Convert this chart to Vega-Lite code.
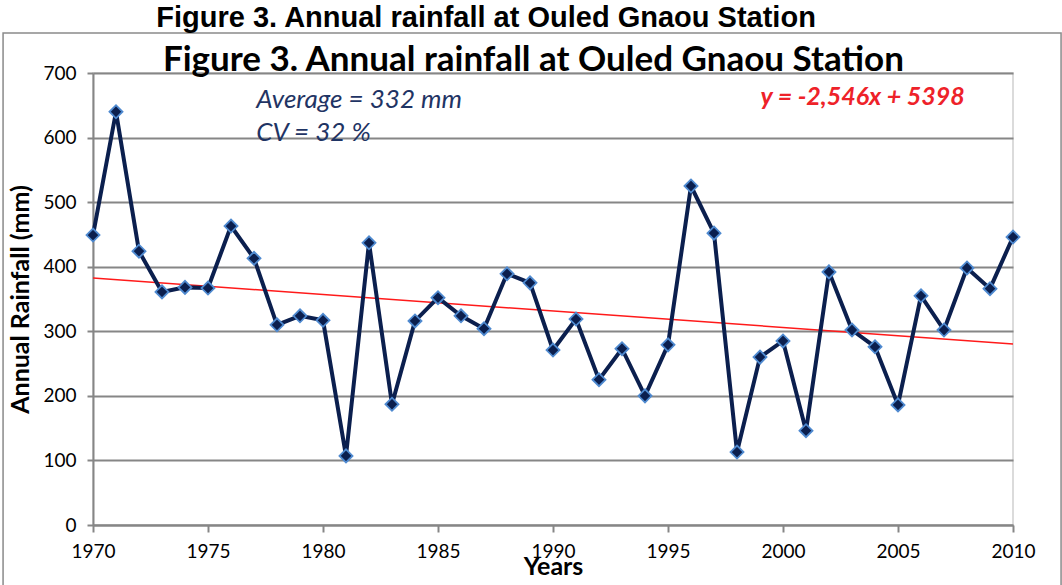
{
  "$schema": "https://vega.github.io/schema/vega-lite/v6.json",
  "autosize": {"type": "none"},
  "width": 920,
  "height": 452,
  "padding": {"left": 93, "top": 73, "right": 49, "bottom": 60},
  "background": "white",
  "config": {
    "view": {"stroke": "#d0d0d0", "strokeWidth": 1.5},
    "axis": {
      "labelFont": "Lato",
      "labelFontSize": 19,
      "labelColor": "black",
      "titleFont": "Lato",
      "titleFontSize": 25,
      "titleFontWeight": "bold",
      "titleColor": "black",
      "domainColor": "#868686",
      "domainWidth": 2,
      "tickColor": "#868686",
      "tickWidth": 2,
      "gridColor": "#868686",
      "gridWidth": 2
    }
  },
  "datasets": {
    "rain": [
      {"year": 1970, "rainfall": 449},
      {"year": 1971, "rainfall": 640},
      {"year": 1972, "rainfall": 424},
      {"year": 1973, "rainfall": 361},
      {"year": 1974, "rainfall": 368},
      {"year": 1975, "rainfall": 367},
      {"year": 1976, "rainfall": 463},
      {"year": 1977, "rainfall": 413},
      {"year": 1978, "rainfall": 310},
      {"year": 1979, "rainfall": 324},
      {"year": 1980, "rainfall": 317},
      {"year": 1981, "rainfall": 107},
      {"year": 1982, "rainfall": 437},
      {"year": 1983, "rainfall": 187},
      {"year": 1984, "rainfall": 316},
      {"year": 1985, "rainfall": 352},
      {"year": 1986, "rainfall": 324},
      {"year": 1987, "rainfall": 304},
      {"year": 1988, "rainfall": 389},
      {"year": 1989, "rainfall": 375},
      {"year": 1990, "rainfall": 271},
      {"year": 1991, "rainfall": 319},
      {"year": 1992, "rainfall": 225},
      {"year": 1993, "rainfall": 273},
      {"year": 1994, "rainfall": 200},
      {"year": 1995, "rainfall": 279},
      {"year": 1996, "rainfall": 525},
      {"year": 1997, "rainfall": 452},
      {"year": 1998, "rainfall": 113},
      {"year": 1999, "rainfall": 260},
      {"year": 2000, "rainfall": 285},
      {"year": 2001, "rainfall": 146},
      {"year": 2002, "rainfall": 392},
      {"year": 2003, "rainfall": 302},
      {"year": 2004, "rainfall": 276},
      {"year": 2005, "rainfall": 186},
      {"year": 2006, "rainfall": 355},
      {"year": 2007, "rainfall": 302},
      {"year": 2008, "rainfall": 398},
      {"year": 2009, "rainfall": 366},
      {"year": 2010, "rainfall": 446}
    ],
    "trend": [
      {"year": 1970, "rainfall": 382.4},
      {"year": 2010, "rainfall": 280.5}
    ],
    "notes": [
      {"year": 1977.1, "rainfall": 658, "label": "Average = 332 mm"},
      {"year": 1977.1, "rainfall": 607, "label": "CV = 32 %"}
    ],
    "equation": [
      {"year": 2007.9, "rainfall": 663, "label": "y = -2,546x + 5398"}
    ],
    "titles": [
      {"year": 1987.09, "rainfall": 772.0, "label": "Figure 3. Annual rainfall at Ouled Gnaou Station"}
    ],
    "innerTitle": [
      {"year": 1989.15, "rainfall": 720, "label": "Figure 3. Annual rainfall at Ouled Gnaou Station"}
    ],
    "frame": [
      {"x1": 1966.09, "x2": 2012.09, "y1": -120, "y2": 762}
    ]
  },
  "layer": [
    {
      "data": {"name": "frame"},
      "mark": {"type": "rect", "fill": null, "stroke": "#8a8a8a", "strokeWidth": 1.5},
      "encoding": {
        "x": {"field": "x1", "type": "quantitative"},
        "x2": {"field": "x2"},
        "y": {"field": "y1", "type": "quantitative"},
        "y2": {"field": "y2"}
      }
    },
    {
      "data": {"name": "trend"},
      "mark": {"type": "line", "color": "#ff1a1a", "strokeWidth": 1.5},
      "encoding": {
        "x": {
          "field": "year", "type": "quantitative",
          "scale": {"domain": [1970, 2010], "nice": false, "zero": false},
          "axis": {
            "values": [1970, 1975, 1980, 1985, 1990, 1995, 2000, 2005, 2010],
            "format": "d",
            "grid": false,
            "tickSize": 7,
            "labelPadding": 10,
            "labelFlush": false,
            "title": "Years",
            "titlePadding": -7
          }
        },
        "y": {
          "field": "rainfall", "type": "quantitative",
          "scale": {"domain": [0, 700], "nice": false},
          "axis": {
            "values": [0, 100, 200, 300, 400, 500, 600, 700],
            "tickSize": 6,
            "labelPadding": 11,
            "labelFlush": false,
            "title": "Annual Rainfall (mm)",
            "titleFontSize": 25,
            "titlePadding": 9
          }
        }
      }
    },
    {
      "data": {"name": "rain"},
      "mark": {"type": "line", "color": "#0b1f4e", "strokeWidth": 4},
      "encoding": {
        "x": {"field": "year", "type": "quantitative"},
        "y": {"field": "rainfall", "type": "quantitative"}
      }
    },
    {
      "data": {"name": "rain"},
      "mark": {"type": "point", "shape": "diamond", "filled": true, "size": 170, "fill": "#0b1f4e", "stroke": "#4f8ad0", "strokeWidth": 1.8, "opacity": 1},
      "encoding": {
        "x": {"field": "year", "type": "quantitative"},
        "y": {"field": "rainfall", "type": "quantitative"}
      }
    },
    {
      "data": {"name": "notes"},
      "mark": {"type": "text", "font": "Lato", "fontSize": 26, "fontStyle": "italic", "color": "#1f3464", "align": "left", "baseline": "middle"},
      "encoding": {
        "x": {"field": "year", "type": "quantitative"},
        "y": {"field": "rainfall", "type": "quantitative"},
        "text": {"field": "label"}
      }
    },
    {
      "data": {"name": "equation"},
      "mark": {"type": "text", "font": "Lato", "fontSize": 25, "fontStyle": "italic", "fontWeight": "bold", "color": "#ee2229", "align": "right", "baseline": "middle"},
      "encoding": {
        "x": {"field": "year", "type": "quantitative"},
        "y": {"field": "rainfall", "type": "quantitative"},
        "text": {"field": "label"}
      }
    },
    {
      "data": {"name": "innerTitle"},
      "mark": {"type": "text", "font": "Lato", "fontSize": 35, "fontWeight": "bold", "color": "black", "align": "center", "baseline": "middle"},
      "encoding": {
        "x": {"field": "year", "type": "quantitative"},
        "y": {"field": "rainfall", "type": "quantitative"},
        "text": {"field": "label"}
      }
    },
    {
      "data": {"name": "titles"},
      "mark": {"type": "text", "font": "Liberation Sans", "fontSize": 29, "fontWeight": "bold", "color": "black", "align": "center", "baseline": "alphabetic"},
      "encoding": {
        "x": {"field": "year", "type": "quantitative"},
        "y": {"field": "rainfall", "type": "quantitative"},
        "text": {"field": "label"}
      }
    }
  ]
}
